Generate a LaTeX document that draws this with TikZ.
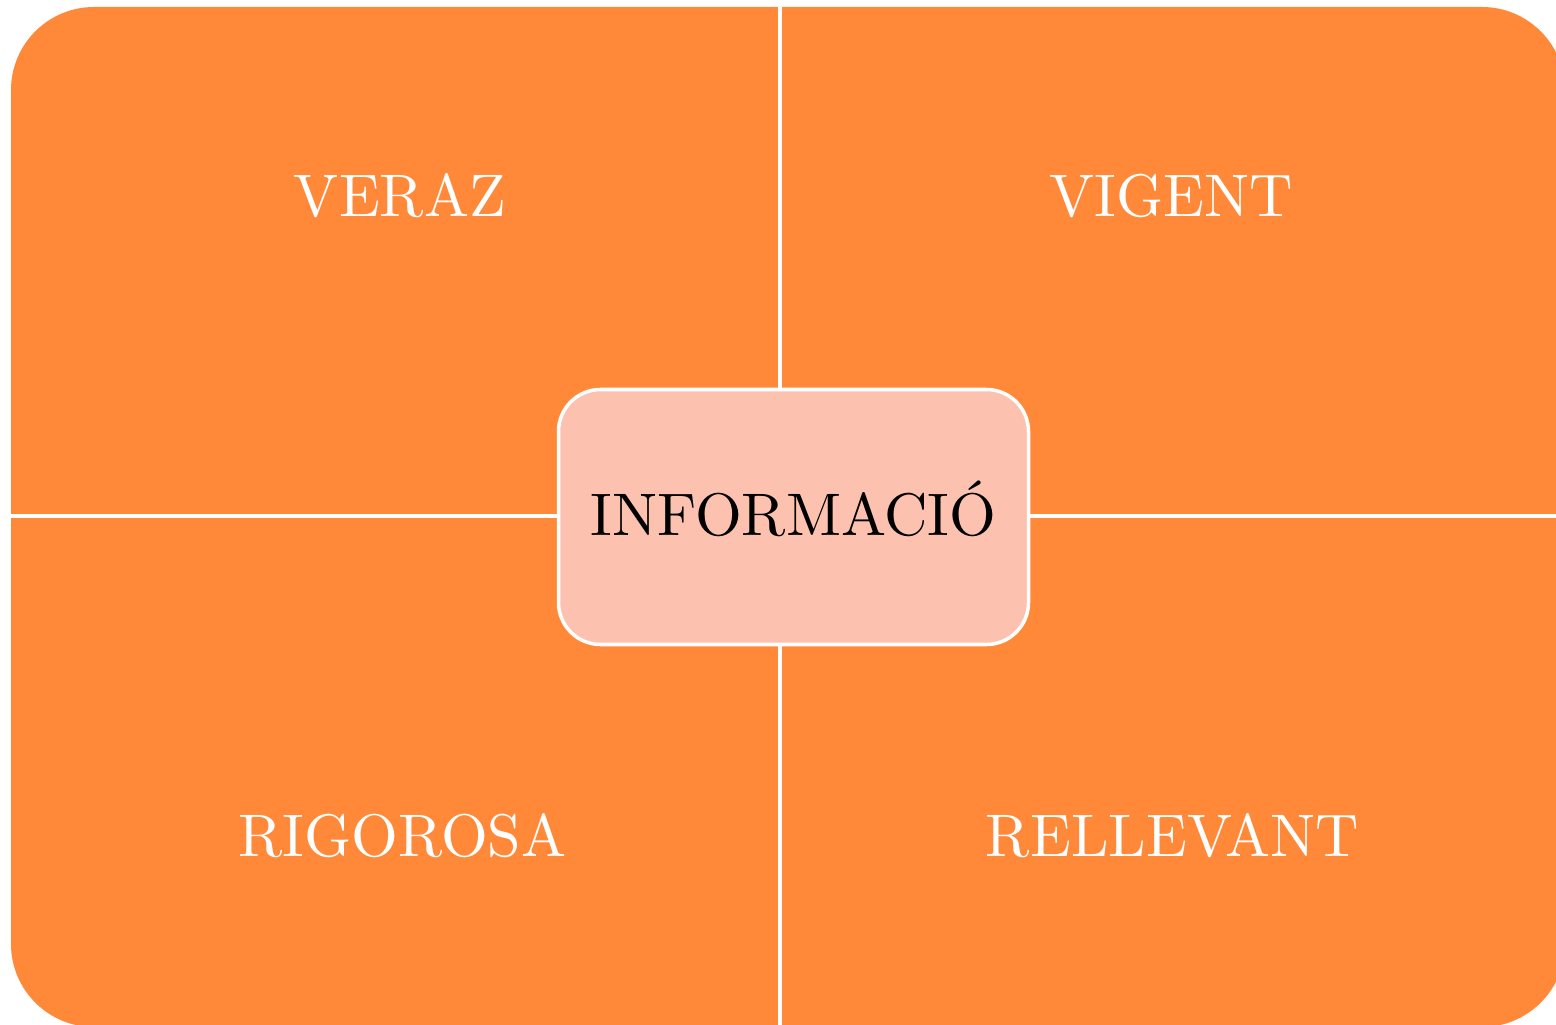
\documentclass[tikz,border=0pt]{standalone}
\usepackage{tikz}
\usepackage{graphicx}
\usetikzlibrary{positioning}
\definecolor{quadorange}{RGB}{255,137,57}
\definecolor{infopeach}{RGB}{253,194,175}
\newcommand{\bigword}[1]{\scalebox{1.71}{#1}}
\tikzset{
    quad/.style={fill=quadorange},
    divider/.style={draw=white, line width=1pt},
    quadtext/.style={text=white, inner sep=0pt},
    infobox/.style={draw=white, line width=1pt, fill=infopeach, rounded corners=0.42cm,
        minimum width=4.70cm, minimum height=2.55cm, text height=0.36cm, text depth=0pt}
}
\begin{document}
\begin{tikzpicture}
    \def \R {0.83}
    \useasboundingbox (0,0) rectangle (15.56,10.24);
    % corners of the outer box (right and bottom run past the page)
    \coordinate (a1) at (0.11, 10.17);
    \coordinate (a2) at (15.65, -0.03);
    % ends of the dividers
    \coordinate (t) at (7.80, 10.17);
    \coordinate (b) at (7.80, -0.03);
    \coordinate (l) at (0.11, 5.08);
    \coordinate (r) at (15.65, 5.08);
    \fill[quad, rounded corners=\R cm] (a1) rectangle (a2);
    \draw[divider] (t) -- (b);
    \draw[divider] (l) -- (r);
    \node[quadtext] (veraz) at (4.00, 8.28) {\bigword{VERAZ}};
    \node[quadtext] (vigent) at (11.715, 8.28) {\bigword{VIGENT}};
    \node[quadtext] (rigorosa) at (4.025, 1.88) {\bigword{RIGOROSA}};
    \node[quadtext] (rellevant) at (11.725, 1.88) {\bigword{RELLEVANT}};
    \node[infobox] (info) at (7.935, 5.07) {\bigword{INFORMACIÓ}};
\end{tikzpicture}
\end{document}
